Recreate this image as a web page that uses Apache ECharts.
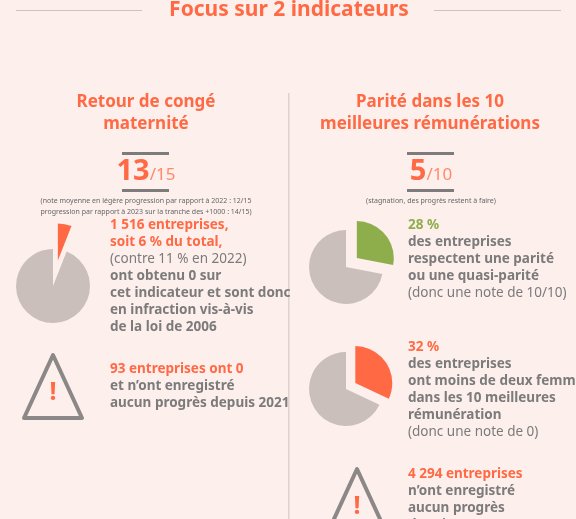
<!DOCTYPE html>
<html>
<head>
<meta charset="utf-8">
<script src="https://cdn.jsdelivr.net/npm/echarts@6/dist/echarts.min.js"></script>
<style>
  html, body { margin: 0; padding: 0; background: #fdefec; }
  #chart { width: 576px; height: 519px; }
</style>
</head>
<body>
<div id="chart"></div>
<script>
// Data
const pieLabels = ['Indicateur', 'Reste'];
const congeValues = [6, 94];          // 6 % à 0 sur retour de congé maternité
const pariteValues = [28, 72];        // 28 % parité respectée
const moinsDeuxValues = [32, 68];     // 32 % moins de deux femmes
const scores = ['13', '/15', '5', '/10'];

const orange = '#ff6a45';
const grey = '#cbbfbc';
const green = '#8eae4b';
const textGrey = '#7b7b7b';
const font = '"Noto Sans", sans-serif';

const chart = echarts.init(document.getElementById('chart'));

function pie(center, r, values, color, offset) {
    return {
        type: 'pie',
        center: center,
        radius: [0, r],
        startAngle: 90,
        clockwise: true,
        silent: true,
        label: { show: false },
        labelLine: { show: false },
        selectedMode: 'single',
        selectedOffset: offset,
        animation: false,
        data: [
            { name: pieLabels[0], value: values[0], selected: true, itemStyle: { color: color } },
            { name: pieLabels[1], value: values[1], itemStyle: { color: grey } }
        ]
    };
}

function txt(x, y, s, opts) {
    return {
        type: 'text', x: x, y: y,
        style: Object.assign({
            text: s, fill: textGrey, font: 'bold 13.5px ' + font,
            textAlign: 'left', textVerticalAlign: 'middle'
        }, opts || {})
    };
}

function lines(x, y0, arr) {
    // arr: [text, color, weight]
    return arr.map((l, i) => txt(x, y0 + i * 17, l[0], {
        fill: l[1] || textGrey,
        font: (l[2] || 'bold') + ' 13.5px ' + font
    }));
}

function triangle(cx, top) {
    return [
        {
            type: 'polygon',
            shape: { points: [[cx, top], [cx + 29, top + 63], [cx - 29, top + 63]] },
            style: { fill: 'none', stroke: '#8c8888', lineWidth: 4, lineJoin: 'round' }
        },
        txt(cx, top + 38, '!', { fill: orange, font: 'bold 25px ' + font, textAlign: 'center' })
    ];
}

function bar(x, y, w) {
    return { type: 'rect', shape: { x: x, y: y, width: w, height: 3 }, style: { fill: '#7d7b7b' } };
}

const rich = {
    a: { fill: orange, font: 'bold 29px ' + font },
    b: { fill: '#ff8a6a', font: '17px ' + font, padding: [7, 0, 0, 0] }
};

const elements = [
    { type: 'rect', shape: { x: 16, y: 10, width: 126, height: 1 }, style: { fill: '#cfc3c1' } },
    { type: 'rect', shape: { x: 434, y: 10, width: 127, height: 1 }, style: { fill: '#cfc3c1' } },
    txt(289, 10, 'Focus sur 2 indicateurs', { fill: orange, font: 'bold 21px ' + font, textAlign: 'center' }),
    { type: 'rect', shape: { x: 288, y: 93, width: 1.5, height: 426 }, style: { fill: '#ddd2d0' } },

    txt(146, 102, 'Retour de congé', { fill: orange, font: 'bold 17px ' + font, textAlign: 'center' }),
    txt(146, 124, 'maternité', { fill: orange, font: 'bold 17px ' + font, textAlign: 'center' }),
    txt(430, 102, 'Parité dans les 10', { fill: orange, font: 'bold 17px ' + font, textAlign: 'center' }),
    txt(430, 124, 'meilleures rémunérations', { fill: orange, font: 'bold 17px ' + font, textAlign: 'center' }),

    bar(122, 152, 47), bar(122, 189, 47),
    bar(407, 152, 47), bar(407, 189, 47),
    { type: 'text', x: 146, y: 172,
      style: { text: '{a|' + scores[0] + '}{b|' + scores[1] + '}', textAlign: 'center', textVerticalAlign: 'middle', rich: rich } },
    { type: 'text', x: 431, y: 172,
      style: { text: '{a|' + scores[2] + '}{b|' + scores[3] + '}', textAlign: 'center', textVerticalAlign: 'middle', rich: rich } },
    txt(146, 201, '(note moyenne en légère progression par rapport à 2022 : 12/15', { font: '7px ' + font, textAlign: 'center', fill: '#666' }),
    txt(146, 212, 'progression par rapport à 2023 sur la tranche des +1000 : 14/15)', { font: '7px ' + font, textAlign: 'center', fill: '#666' }),
    txt(431, 201, '(stagnation, des progrès restent à faire)', { font: '7px ' + font, textAlign: 'center', fill: '#666' })
].concat(
    lines(110, 225, [
        ['1 516 entreprises,', orange],
        ['soit 6 % du total,', orange],
        ['(contre 11 % en 2022)', null, 'normal'],
        ['ont obtenu 0 sur'],
        ['cet indicateur et sont donc'],
        ['en infraction vis-à-vis'],
        ['de la loi de 2006']
    ]),
    lines(110, 369, [
        ['93 entreprises ont 0', orange],
        ['et n\u2019ont enregistré'],
        ['aucun progrès depuis 2021']
    ]),
    lines(408, 225, [
        ['28 %', green],
        ['des entreprises'],
        ['respectent une parité'],
        ['ou une quasi-parité'],
        ['(donc une note de 10/10)', null, 'normal']
    ]),
    lines(408, 347, [
        ['32 %', orange],
        ['des entreprises'],
        ['ont moins de deux femmes'],
        ['dans les 10 meilleures'],
        ['rémunération'],
        ['(donc une note de 0)', null, 'normal']
    ]),
    lines(408, 474, [
        ['4 294 entreprises', orange],
        ['n\u2019ont enregistré'],
        ['aucun progrès'],
        ['depuis 2021']
    ]),
    triangle(53, 355),
    triangle(357, 469)
);

chart.setOption({
    backgroundColor: '#fdefec',
    animation: false,
    series: [
        pie([53, 286], 37, congeValues, orange, 26),
        pie([346, 267], 37, pariteValues, green, 14),
        pie([346, 389], 37, moinsDeuxValues, orange, 11)
    ],
    graphic: { elements: elements }
});
</script>
</body>
</html>
